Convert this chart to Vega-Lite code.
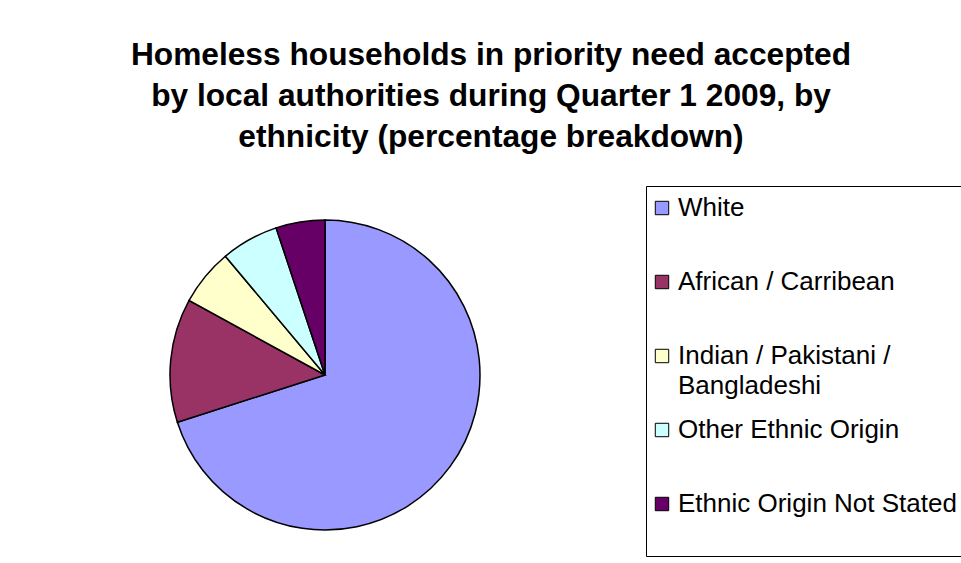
{
  "$schema": "https://vega.github.io/schema/vega-lite/v6.json",
  "autosize": "none",
  "width": 310,
  "height": 310,
  "padding": {"left": 170, "top": 220, "right": 481, "bottom": 33},
  "background": "white",
  "title": {
    "text": ["Homeless households in priority need accepted", "by local authorities during Quarter 1 2009, by", "ethnicity (percentage breakdown)"],
    "font": "Liberation Sans",
    "fontSize": 31.7,
    "fontWeight": "bold",
    "color": "black",
    "lineHeight": 41,
    "anchor": "middle",
    "frame": "group",
    "dx": 166,
    "offset": 32
  },
  "data": {
    "values": [
      {"ethnicity": "White", "pct": 70.0, "idx": 1},
      {"ethnicity": "African / Carribean", "pct": 12.9, "idx": 2},
      {"ethnicity": "Indian / Pakistani / Bangladeshi", "pct": 5.9, "idx": 3},
      {"ethnicity": "Other Ethnic Origin", "pct": 6.0, "idx": 4},
      {"ethnicity": "Ethnic Origin Not Stated", "pct": 5.1, "idx": 5}
    ]
  },
  "mark": {"type": "arc", "stroke": "black", "strokeWidth": 1.5},
  "encoding": {
    "theta": {"field": "pct", "type": "quantitative", "stack": true},
    "order": {"field": "idx", "type": "quantitative"},
    "color": {
      "field": "ethnicity",
      "type": "nominal",
      "scale": {
        "domain": ["White", "African / Carribean", "Indian / Pakistani / Bangladeshi", "Other Ethnic Origin", "Ethnic Origin Not Stated"],
        "range": ["#9999FF", "#993366", "#FFFFCC", "#CCFFFF", "#660066"]
      },
      "legend": {
        "orient": "none",
        "legendX": 476,
        "legendY": -34,
        "title": null,
        "padding": 9,
        "strokeColor": "black",
        "symbolType": "square",
        "symbolSize": 180,
        "symbolStrokeColor": "black",
        "symbolStrokeWidth": 1,
        "symbolOpacity": 1,
        "symbolOffset": -6,
        "labelFont": "Liberation Sans",
        "labelFontSize": 26,
        "labelColor": "black",
        "labelLimit": 500,
        "labelOffset": 3,
        "rowPadding": 18,
        "gridAlign": "all",
        "labelExpr": "datum.value === 'Indian / Pakistani / Bangladeshi' ? ['Indian / Pakistani /', 'Bangladeshi'] : datum.value === 'Ethnic Origin Not Stated' ? ['Ethnic Origin Not Stated', ''] : datum.label"
      }
    }
  },
  "config": {
    "style": {"guide-label": {"lineHeight": 30}}
  }
}
